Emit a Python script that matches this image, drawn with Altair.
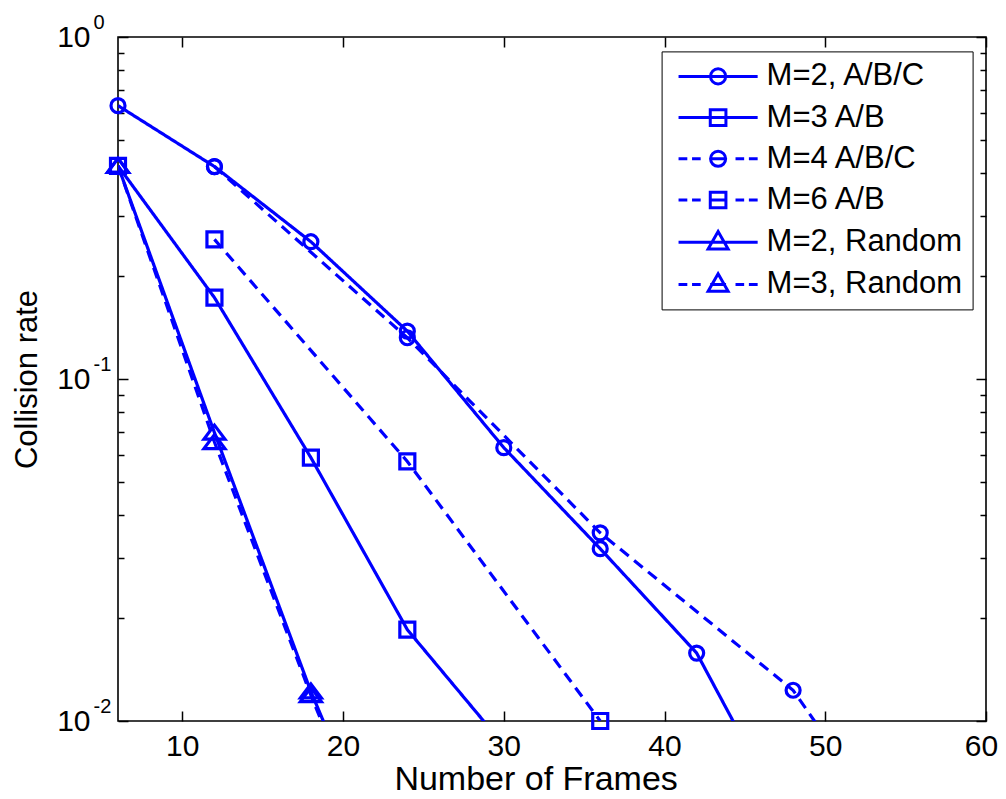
import altair as alt
import pandas as pd

# ---------------- data ----------------
series_names = ["M=2, A/B/C", "M=3 A/B", "M=4 A/B/C", "M=6 A/B", "M=2, Random", "M=3, Random"]

frames_m2_abc = [6, 12, 18, 24, 30, 36, 42, 48]
rate_m2_abc = [0.63, 0.418, 0.252, 0.138, 0.063, 0.0319, 0.0158, 0.0047]

frames_m3_ab = [6, 12, 18, 24, 30]
rate_m3_ab = [0.42, 0.173, 0.0589, 0.0185, 0.0085]

frames_m4_abc = [12, 24, 36, 48, 60]
rate_m4_abc = [0.418, 0.132, 0.0355, 0.0123, 0.0019]

frames_m6_ab = [12, 24, 36]
rate_m6_ab = [0.256, 0.0574, 0.0100]

frames_m2_rand = [6, 12, 18, 24]
rate_m2_rand = [0.42, 0.0697, 0.0122, 0.0026]

frames_m3_rand = [6, 12, 18, 24]
rate_m3_rand = [0.42, 0.0654, 0.0119, 0.0024]

x_ticks = [10, 20, 30, 40, 50, 60]
y_major = [0.01, 0.1, 1]
y_minor = [0.02, 0.03, 0.04, 0.05, 0.06, 0.07, 0.08, 0.09,
           0.2, 0.3, 0.4, 0.5, 0.6, 0.7, 0.8, 0.9]

# ---------------- styles ----------------
W, H = 868, 684
BLUE = "#0000FF"
FONT = "Liberation Sans"
LW = 3.2
dash_range = [[1, 0], [1, 0], [11, 7], [11, 7], [1, 0], [11, 7]]

CIRCLE = "M0.7,0A0.7,0.7 0 1,1 -0.7,0A0.7,0.7 0 1,1 0.7,0Z"
SQUARE = "M-0.75,-0.75L0.75,-0.75L0.75,0.75L-0.75,0.75Z"
TRIANGLE = "M0,-0.75L1.05,0.65L-1.05,0.65Z"
marker_range = [CIRCLE, SQUARE, CIRCLE, SQUARE, TRIANGLE, TRIANGLE]

# legend symbols: unit = sqrt(729)/2 = 13.5 px, path runs wider than [-1, 1]
SOLID_L = "M-2.93,0L2.93,0"
DASH_L = ("M-2.93,0L-2.28,0M-1.93,0L-1.29,0M-0.59,0L0.59,0"
          "M1.29,0L1.93,0M2.28,0L2.93,0")
LC = "M0.56,0A0.56,0.56 0 1,1 -0.56,0A0.56,0.56 0 1,1 0.56,0Z"
LS = "M-0.58,-0.58L0.58,-0.58L0.58,0.58L-0.58,0.58Z"
LT = "M0,-0.79L0.74,0.5L-0.74,0.5Z"
legend_range = [SOLID_L + LC, SOLID_L + LS, DASH_L + LC, DASH_L + LS, SOLID_L + LT, DASH_L + LT]

rows = []
for name, fr, rt in zip(series_names,
                        [frames_m2_abc, frames_m3_ab, frames_m4_abc, frames_m6_ab, frames_m2_rand, frames_m3_rand],
                        [rate_m2_abc, rate_m3_ab, rate_m4_abc, rate_m6_ab, rate_m2_rand, rate_m3_rand]):
    for f, r in zip(fr, rt):
        rows.append({"series": name, "frames": f, "rate": r})
df = pd.DataFrame(rows)

xscale = alt.Scale(domain=[6, 60], nice=False, zero=False)
yscale = alt.Scale(type="log", domain=[0.01, 1], nice=False)

is_major = "abs(log(datum.value)/LN10 - round(log(datum.value)/LN10)) < 0.001"
tick_size_cond = {"condition": {"test": is_major, "value": 10}, "value": 6}
last_label_shift = {"condition": {"test": "datum.value == 60", "value": -5}, "value": 0}

base = alt.Chart(df)

# layer 1: lines (main bottom labels + left "10" labels)
lines = base.mark_line(clip=True, strokeWidth=LW, color=BLUE).encode(
    x=alt.X("frames:Q", scale=xscale,
            axis=alt.Axis(values=x_ticks, orient="bottom", ticks=False, domain=False, grid=False,
                          labelFont=FONT, labelFontSize=30, labelColor="black",
                          labelPadding=10, labelFlush=False, labelOffset=last_label_shift,
                          title="Number of Frames", titleFont=FONT, titleFontSize=34,
                          titleFontWeight="normal", titleColor="black",
                          titleX=417.6, titleAlign="center",
                          titleY=68, titleBaseline="alphabetic")),
    y=alt.Y("rate:Q", scale=yscale,
            axis=alt.Axis(values=y_major, orient="left", ticks=False, tickSize=0, domain=False,
                          grid=False, labelExpr="'10'", labelFont=FONT, labelFontSize=30,
                          labelColor="black", labelPadding=28, labelBaseline="middle",
                          title="Collision rate", titleFont=FONT, titleFontSize=31,
                          titleFontWeight="normal", titleColor="black",
                          titleX=-82, titleY=H / 2, titleAngle=270,
                          titleBaseline="alphabetic", titleAlign="center")),
    strokeDash=alt.StrokeDash("series:N", scale=alt.Scale(domain=series_names, range=dash_range),
                              legend=None),
    detail="series:N",
    order="frames:Q",
)

# layer 2: markers (bottom inward ticks + exponent labels)
points = base.mark_point(filled=False, strokeWidth=LW, size=400, color=BLUE, opacity=1).encode(
    x=alt.X("frames:Q", scale=xscale,
            axis=alt.Axis(values=x_ticks, orient="top", offset=-H, ticks=True, tickSize=10,
                          tickWidth=1.5, tickColor="black", labels=False, domain=False,
                          grid=False, title=None)),
    y=alt.Y("rate:Q", scale=yscale,
            axis=alt.Axis(values=y_major, orient="left", ticks=False, tickSize=0, domain=False,
                          grid=False, labelExpr="'' + round(log(datum.value)/LN10)",
                          labelFont=FONT, labelFontSize=20, labelColor="black",
                          labelAlign="left", labelPadding=25, labelOffset=-14.5,
                          title=None)),
    shape=alt.Shape("series:N", scale=alt.Scale(domain=series_names, range=marker_range),
                    legend=None),
).transform_filter("datum.rate >= 0.0099")

# layer 3: legend carrier (top inward ticks + left inward ticks)
legend_layer = base.mark_point(filled=False, strokeWidth=LW, color=BLUE, opacity=1).encode(
    x=alt.X("frames:Q", scale=xscale,
            axis=alt.Axis(values=x_ticks, orient="bottom", offset=-H, ticks=True, tickSize=10,
                          tickWidth=1.5, tickColor="black", labels=False, domain=False,
                          grid=False, title=None)),
    y=alt.Y("rate:Q", scale=yscale,
            axis=alt.Axis(values=y_major + y_minor, orient="right", offset=-W, ticks=True,
                          tickSize=tick_size_cond, tickWidth=1.5, tickColor="black",
                          labels=False, domain=False, grid=False, title=None)),
    shape=alt.Shape("series:N", scale=alt.Scale(domain=series_names, range=legend_range),
                    legend=alt.Legend(title=None, orient="none", legendX=543.6, legendY=14.4,
                                      padding=9.5, fillColor="white", strokeColor="black",
                                      cornerRadius=0, symbolSize=729, symbolStrokeWidth=3,
                                      symbolStrokeColor=BLUE, symbolOpacity=1,
                                      symbolOffset=31.5, labelOffset=33,
                                      labelFont=FONT, labelFontSize=31, labelColor="black",
                                      labelLimit=400, rowPadding=9.2)),
).transform_filter("false")

# layer 4: right inward ticks
right_ticks = base.mark_point(opacity=0).encode(
    x=alt.X("frames:Q", scale=xscale, axis=None),
    y=alt.Y("rate:Q", scale=yscale,
            axis=alt.Axis(values=y_major + y_minor, orient="left", offset=-W, ticks=True,
                          tickSize=tick_size_cond, tickWidth=1.5, tickColor="black",
                          labels=False, domain=False, grid=False, title=None)),
).transform_filter("false")

chart = alt.layer(lines, points, legend_layer, right_ticks).resolve_scale(
    shape="independent"
).resolve_axis(
    x="independent", y="independent"
).properties(
    width=W, height=H,
    autosize=alt.AutoSizeParams(type="none"),
    padding={"left": 110, "top": 29, "right": 12, "bottom": 70},
    background="white",
).configure_view(
    stroke="black", strokeWidth=1.6
)

chart.save("out.html", embed_options={"renderer": "svg", "actions": False})
